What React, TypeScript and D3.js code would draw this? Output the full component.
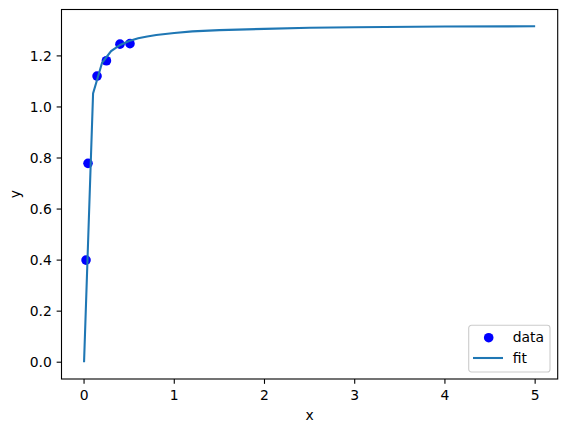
import * as d3 from 'd3';

// Observed data points
const dataX = [0.022, 0.044, 0.144, 0.248, 0.398, 0.509];
const dataY = [0.4, 0.779, 1.121, 1.181, 1.246, 1.248];

// Fitted curve
const fitX = [0, 0.1, 0.2, 0.3, 0.4, 0.5, 0.6, 0.7, 0.8, 0.9, 1.0, 1.2, 1.5, 2.0, 2.5, 3.0, 4.0, 5.0];
const fitY = [0, 1.053, 1.173, 1.219, 1.243, 1.258, 1.269, 1.276, 1.282, 1.286, 1.29, 1.296, 1.301, 1.306, 1.31, 1.312, 1.315, 1.316];

const xTicks = [0, 1, 2, 3, 4, 5];
const yTicks = [0.0, 0.2, 0.4, 0.6, 0.8, 1.0, 1.2];

const FONT = '"DejaVu Sans", sans-serif';
const width = 567;
const height = 432;
const margin = { top: 9.5, right: 9.3, bottom: 53, left: 61.5 };
const innerWidth = width - margin.left - margin.right;
const innerHeight = height - margin.top - margin.bottom;

export default function App() {
  const xScale = d3.scaleLinear().domain([-0.25, 5.25]).range([0, innerWidth]);
  const yScale = d3.scaleLinear().domain([-0.0658, 1.3818]).range([innerHeight, 0]);

  const line = d3
    .line<number>()
    .x((_, i) => xScale(fitX[i]))
    .y((d) => yScale(d));

  const legendX = innerWidth - 89;
  const legendY = innerHeight - 53.7;

  return (
    <div style={{ position: 'fixed', left: 0, top: 0 }}>
      <svg width={width} height={height} style={{ display: 'block', background: '#fff' }}>
        <g transform={`translate(${margin.left}, ${margin.top})`}>
          {/* data points */}
          {dataX.map((x, i) => (
            <circle key={i} cx={xScale(x)} cy={yScale(dataY[i])} r={4.8} fill="#0000ff" />
          ))}

          {/* fit line, drawn over the points */}
          <path d={line(fitY) ?? ''} fill="none" stroke="#1f77b4" strokeWidth={2.08} />

          {/* x ticks */}
          {xTicks.map((t) => (
            <g key={`x${t}`} transform={`translate(${xScale(t)}, ${innerHeight})`}>
              <line y2={4.86} stroke="#000" strokeWidth={1.1} />
              <text y={20.5} textAnchor="middle" fontFamily={FONT} fontSize={13.9} fill="#000">
                {t}
              </text>
            </g>
          ))}

          {/* y ticks */}
          {yTicks.map((t) => (
            <g key={`y${t}`} transform={`translate(0, ${yScale(t)})`}>
              <line x2={-4.86} stroke="#000" strokeWidth={1.1} />
              <text x={-9.7} dy="0.36em" textAnchor="end" fontFamily={FONT} fontSize={13.9} fill="#000">
                {t.toFixed(1)}
              </text>
            </g>
          ))}

          {/* frame */}
          <rect width={innerWidth} height={innerHeight} fill="none" stroke="#000" strokeWidth={1.1} />

          {/* axis labels */}
          <text
            x={innerWidth / 2}
            y={innerHeight + 40.5}
            textAnchor="middle"
            fontFamily={FONT}
            fontSize={13.9}
            fill="#000"
          >
            x
          </text>
          <text
            transform={`translate(${-42}, ${innerHeight / 2}) rotate(-90)`}
            textAnchor="middle"
            fontFamily={FONT}
            fontSize={13.9}
            fill="#000"
          >
            y
          </text>

          {/* legend */}
          <g transform={`translate(${legendX}, ${legendY})`}>
            <rect
              width={81.3}
              height={46.7}
              rx={2.8}
              fill="#fff"
              fillOpacity={0.8}
              stroke="#cccccc"
              strokeWidth={1.1}
            />
            <circle cx={20} cy={12.4} r={4.8} fill="#0000ff" />
            <text x={44} y={17.2} fontFamily={FONT} fontSize={13.9} fill="#000">
              data
            </text>
            <line x1={4.3} x2={34.3} y1={32.7} y2={32.7} stroke="#1f77b4" strokeWidth={2.08} />
            <text x={44} y={37.6} fontFamily={FONT} fontSize={13.9} fill="#000">
              fit
            </text>
          </g>
        </g>
      </svg>
    </div>
  );
}
